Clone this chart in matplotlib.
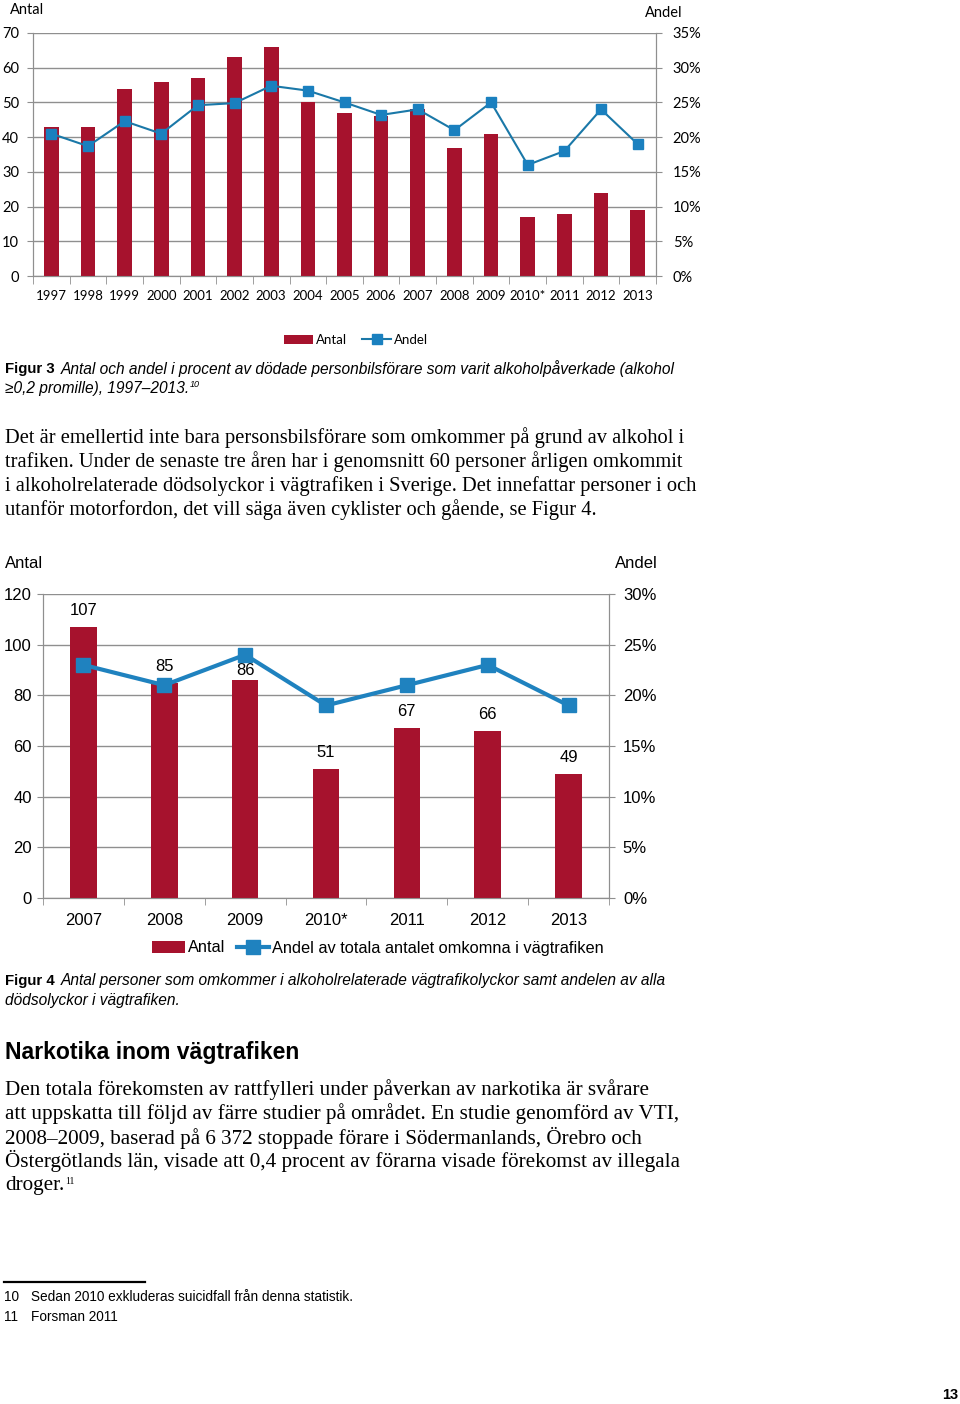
import numpy as np
import matplotlib
matplotlib.use("Agg")
import matplotlib.pyplot as plt
from matplotlib.ticker import FuncFormatter, FixedLocator

# figur 3 data
years1 = ['1997', '1998', '1999', '2000', '2001', '2002', '2003', '2004', '2005',
          '2006', '2007', '2008', '2009', '2010*', '2011', '2012', '2013']
antal1 = [43, 43, 54, 56, 57, 63, 66, 50, 47, 46, 48, 37, 41, 17, 18, 24, 19]
andel1 = [20.5, 18.7, 22.3, 20.5, 24.6, 24.9, 27.4, 26.7, 25.0, 23.2, 24.0, 21.0,
          25.0, 16.0, 18.0, 24.0, 19.0]

# figur 4 data
years2 = ['2007', '2008', '2009', '2010*', '2011', '2012', '2013']
antal2 = [107, 85, 86, 51, 67, 66, 49]
andel2 = [23, 21, 24, 19, 21, 23, 19]

W, H = 960, 1404
RED = '#a6122d'
BLUE1 = '#1a78a8'
BLUE2 = '#1f82bf'
GRID = '#8f8f8f'
SANS = ['Liberation Sans', 'DejaVu Sans']
SERIF = ['Liberation Serif', 'DejaVu Serif']
CAL = ['Lato', 'DejaVu Sans']


def fx(x):
    return x / W


def fy(y):
    return 1 - y / H


def sup(after, txt, size, family, style='normal'):
    # liten upphöjd text direkt efter en annan text
    return plt.annotate(txt, xy=(1, 0.45), xycoords=after, xytext=(0.5, 0),
                        textcoords='offset points', va='bottom', ha='left',
                        fontsize=size, family=family, style=style,
                        annotation_clip=False)


fig = plt.figure(figsize=(W / 100, H / 100), dpi=100)

# ---------- Figur 3 ----------
ax1 = fig.add_axes([fx(33), fy(276), (656 - 33) / W, (276 - 33) / H])
x1 = np.arange(len(years1))
bars1 = ax1.bar(x1, antal1, width=0.4, color=RED, zorder=3, label='Antal')
ax1.set_xlim(-0.5, len(years1) - 0.5)
ax1.set_ylim(0, 70)
ax1.set_yticks(range(0, 71, 10))
ax1.yaxis.grid(True, color=GRID, lw=1)
ax1.set_axisbelow(True)
ax1.set_xticks(x1)
ax1.set_xticklabels(years1, family=CAL, fontsize=9.5)
ax1.xaxis.set_minor_locator(FixedLocator(np.arange(-0.5, len(years1), 1)))
ax1.tick_params(axis='x', which='major', length=0, pad=10)
ax1.tick_params(axis='x', which='minor', length=6, color=GRID)
ax1.tick_params(axis='y', length=4, color=GRID, pad=6, labelsize=10.5)
for lab in ax1.get_yticklabels():
    lab.set_family(CAL)

ax1b = ax1.twinx()
line1, = ax1b.plot(x1, andel1, color=BLUE1, lw=1.5, marker='s', ms=6.5,
                   mfc='#1a80bf', mec='#1a80bf', label='Andel')
ax1b.set_ylim(0, 35)
ax1b.set_yticks(range(0, 36, 5))
ax1b.yaxis.set_major_formatter(FuncFormatter(lambda v, p: f'{v:.0f}%'))
ax1b.tick_params(axis='y', length=4, color=GRID, pad=8, labelsize=10.5)
for lab in ax1b.get_yticklabels():
    lab.set_family(CAL)

for a in (ax1, ax1b):
    a.spines['top'].set_visible(False)
    for s in ('left', 'right', 'bottom'):
        a.spines[s].set_color(GRID)

fig.text(fx(10), fy(10), 'Antal', family=CAL, fontsize=10.5, va='center', ha='left')
fig.text(fx(645), fy(13), 'Andel', family=CAL, fontsize=10.5, va='center', ha='left')

fig.legend([bars1, line1], ['Antal', 'Andel'], loc='center',
           bbox_to_anchor=(fx(356), fy(340)), ncol=2, frameon=False,
           prop={'family': CAL, 'size': 9.5}, handlelength=2.2,
           handletextpad=0.2, columnspacing=1.2)

# caption figur 3
fig.text(fx(5), fy(369), 'Figur 3', family=SANS, fontsize=10.8,
         fontweight='bold', va='center')
fig.text(fx(61), fy(369), 'Antal och andel i procent av dödade personbilsförare som '
         'varit alkoholpåverkade (alkohol', family=SANS, fontsize=11.2,
         style='italic', va='center')
c2 = fig.text(fx(5), fy(388), '≥0,2 promille), 1997–2013.', family=SANS,
              fontsize=11.2, style='italic', va='center')
sup(c2, '10', 6.5, SANS, 'italic')

body1 = ['Det är emellertid inte bara personsbilsförare som omkommer på grund av alkohol i',
         'trafiken. Under de senaste tre åren har i genomsnitt 60 personer årligen omkommit',
         'i alkoholrelaterade dödsolyckor i vägtrafiken i Sverige. Det innefattar personer i och',
         'utanför motorfordon, det vill säga även cyklister och gående, se Figur 4.']
for i, t in enumerate(body1):
    fig.text(fx(5), fy(438 + 23.8 * i), t, family=SERIF, fontsize=14.8, va='center')

# ---------- Figur 4 ----------
ax2 = fig.add_axes([fx(43), fy(898), (609 - 43) / W, (898 - 594) / H])
x2 = np.arange(len(years2))
bars2 = ax2.bar(x2, antal2, width=0.33, color=RED, zorder=3, label='Antal')
ax2.set_xlim(-0.5, len(years2) - 0.5)
ax2.set_ylim(0, 120)
ax2.set_yticks(range(0, 121, 20))
ax2.yaxis.grid(True, color=GRID, lw=1)
ax2.set_axisbelow(True)
ax2.set_xticks(x2)
ax2.set_xticklabels(years2, family=SANS, fontsize=12)
ax2.xaxis.set_minor_locator(FixedLocator(np.arange(-0.5, len(years2), 1)))
ax2.tick_params(axis='x', which='major', length=0, pad=11)
ax2.tick_params(axis='x', which='minor', length=5, color=GRID)
ax2.tick_params(axis='y', length=4, color=GRID, pad=4, labelsize=12)
for lab in ax2.get_yticklabels():
    lab.set_family(SANS)
label_dy = [12, 12, 7, 12, 12, 12, 12]
for i, v in enumerate(antal2):
    ax2.annotate(str(v), (x2[i], v), xytext=(0, label_dy[i]), textcoords='offset points',
                 ha='center', va='center', family=SANS, fontsize=12, zorder=5)

ax2b = ax2.twinx()
line2, = ax2b.plot(x2, andel2, color=BLUE2, lw=3, marker='s', ms=9.5,
                   label='Andel av totala antalet omkomna i vägtrafiken')
ax2b.set_ylim(0, 30)
ax2b.set_yticks(range(0, 31, 5))
ax2b.yaxis.set_major_formatter(FuncFormatter(lambda v, p: f'{v:.0f}%'))
ax2b.tick_params(axis='y', length=4, color=GRID, pad=6, labelsize=12)
for lab in ax2b.get_yticklabels():
    lab.set_family(SANS)

for a in (ax2, ax2b):
    a.spines['top'].set_visible(False)
    for s in ('left', 'right', 'bottom'):
        a.spines[s].set_color(GRID)

fig.text(fx(5), fy(563), 'Antal', family=SANS, fontsize=12, va='center', ha='left')
fig.text(fx(615), fy(563), 'Andel', family=SANS, fontsize=12, va='center', ha='left')

fig.legend([bars2, line2], ['Antal', 'Andel av totala antalet omkomna i vägtrafiken'],
           loc='center', bbox_to_anchor=(fx(378), fy(948)), ncol=2, frameon=False,
           prop={'family': SANS, 'size': 11.8}, handlelength=2.0,
           handletextpad=0.15, columnspacing=0.7)

fig.text(fx(5), fy(981), 'Figur 4', family=SANS, fontsize=10.8,
         fontweight='bold', va='center')
fig.text(fx(61), fy(981), 'Antal personer som omkommer i alkoholrelaterade '
         'vägtrafikolyckor samt andelen av alla', family=SANS, fontsize=11.2,
         style='italic', va='center')
fig.text(fx(5), fy(1000), 'dödsolyckor i vägtrafiken.', family=SANS, fontsize=11.2,
         style='italic', va='center')

fig.text(fx(5), fy(1053), 'Narkotika inom vägtrafiken', family=SANS, fontsize=16.6,
         fontweight='bold', va='center')

body2 = ['Den totala förekomsten av rattfylleri under påverkan av narkotika är svårare',
         'att uppskatta till följd av färre studier på området. En studie genomförd av VTI,',
         '2008–2009, baserad på 6 372 stoppade förare i Södermanlands, Örebro och',
         'Östergötlands län, visade att 0,4 procent av förarna visade förekomst av illegala',
         'droger.']
last = None
for i, t in enumerate(body2):
    last = fig.text(fx(5), fy(1090 + 23.8 * i), t, family=SERIF, fontsize=15.2,
                    va='center')
sup(last, '11', 7, SERIF)

# fotnoter
fig.add_artist(plt.Line2D([fx(4), fx(145)], [fy(1282), fy(1282)], color='black', lw=1.6))
fig.text(fx(4), fy(1297), '10', family=SANS, fontsize=9.8, va='center')
fig.text(fx(31), fy(1297), 'Sedan 2010 exkluderas suicidfall från denna statistik.',
         family=SANS, fontsize=9.8, va='center')
fig.text(fx(4), fy(1317), '11', family=SANS, fontsize=9.8, va='center')
fig.text(fx(31), fy(1317), 'Forsman 2011', family=SANS, fontsize=9.8, va='center')
fig.text(fx(958), fy(1395), '13', family=SANS, fontsize=10.5, fontweight='bold',
         va='center', ha='right')

fig.savefig('out.png', dpi=100)
